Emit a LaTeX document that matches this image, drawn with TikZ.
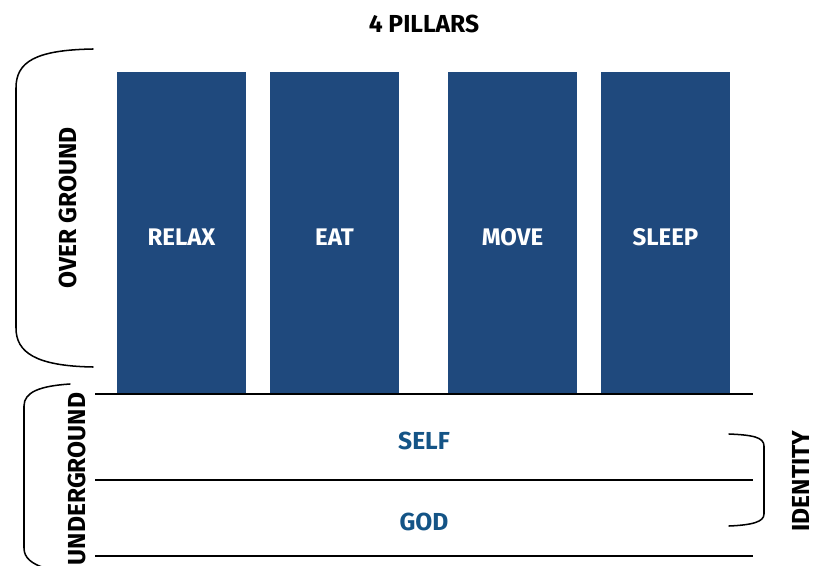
\documentclass[tikz,border=0pt]{standalone}
\usepackage{fontspec}
\setmainfont{Fira Sans}
\usepackage{tikz}
\usetikzlibrary{positioning}
\definecolor{pillarblue}{RGB}{31,73,125}
\definecolor{rootblue}{RGB}{20,84,134}
\begin{document}
\begin{tikzpicture}[
        x=0.03cm, y=-0.03cm,
        every node/.style={font=\bfseries},
        line width=1pt
        ]
        \tikzstyle{pillar} = [fill=pillarblue, text=white, inner sep=0pt,
            text height=0.73cm, text depth=0pt,
            minimum width=3.87cm, minimum height=9.66cm, font=\bfseries\fontsize{20.5}{24}\selectfont];
        \tikzstyle{root} = [text=rootblue, font=\bfseries\fontsize{21}{24}\selectfont];
        \tikzstyle{side} = [rotate=90, inner sep=0pt, font=\bfseries\fontsize{21}{24}\selectfont];
        \tikzstyle{brace} = [line width=1.3pt, line cap=round];
        \useasboundingbox (0,0) rectangle (813,566);

        \node [font=\bfseries\fontsize{21}{24}\selectfont] (title) at (424,24) {4 PILLARS};

        \node[pillar] (relax) at (181.5,233) {RELAX};
        \node[pillar] (eat) at (334.5,233) {EAT};
        \node[pillar] (move) at (512.5,233) {MOVE};
        \node[pillar] (sleep) at (665.5,233) {SLEEP};

        \coordinate (g1) at (95,394);
        \coordinate (g1e) at (753,394);
        \coordinate (g2) at (95,480);
        \coordinate (g2e) at (753,480);
        \coordinate (g3) at (95,556);
        \coordinate (g3e) at (753,556);
        \draw (g1) -- (g1e);
        \draw (g2) -- (g2e);
        \draw (g3) -- (g3e);

        \node[root] (self) at (424,441) {SELF};
        \node[root] (god) at (424,522) {GOD};

        % brackets
        \draw[brace] (93,49) .. controls (35,50) and (16,62) .. (16,88)
            -- (16,328) .. controls (16,352) and (35,366) .. (93,367);
        \node[side] (over) at (68,208) {OVER GROUND};

        \begin{scope}
            \clip (0,0) rectangle (813,566);
            \draw[brace] (70,384) .. controls (40,386) and (24,392) .. (24,406)
                -- (24,548) .. controls (24,558) and (32,564) .. (45,568);
        \end{scope}
        \node[side] (under) at (77,479) {UNDERGROUND};

        \draw[brace] (729,434) .. controls (752,435) and (764,437) .. (764,446)
            -- (764,514) .. controls (764,522) and (752,525) .. (729,526);
        \node[side] (identity) at (801,481) {IDENTITY};
\end{tikzpicture}
\end{document}
